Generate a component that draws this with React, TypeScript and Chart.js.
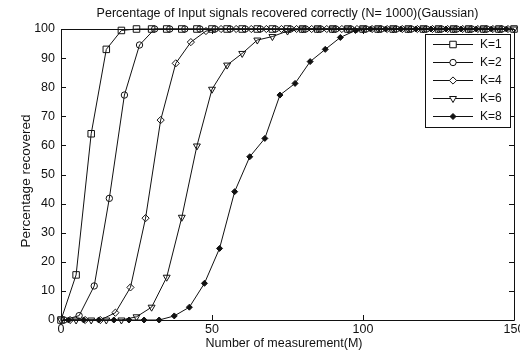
import React, { useEffect, useRef } from 'react';
import { Chart, registerables } from 'chart.js';
import { drawPoint } from 'chart.js/helpers';

Chart.register(...registerables);

const TITLE = 'Percentage of Input signals recovered correctly (N= 1000)(Gaussian)';
const X_LABEL = 'Number of measurement(M)';
const Y_LABEL = 'Percentage recovered';

const X_TICKS = [0, 50, 100, 150];
const Y_TICKS = [0, 10, 20, 30, 40, 50, 60, 70, 80, 90, 100];

const SERIES_NAMES = ['K=1', 'K=2', 'K=4', 'K=6', 'K=8'];

const xK1 = [0, 5, 10, 15, 20, 25, 30, 35, 40, 45, 50, 55, 60, 65, 70, 75, 80, 85, 90, 95, 100, 105, 110, 115, 120, 125, 130, 135, 140, 145, 150];
const yK1 = [0, 15.5, 64, 93, 99.5, 100, 100, 100, 100, 100, 100, 100, 100, 100, 100, 100, 100, 100, 100, 100, 100, 100, 100, 100, 100, 100, 100, 100, 100, 100, 100];

const xK2 = [1, 6, 11, 16, 21, 26, 31, 36, 41, 46, 51, 56, 61, 66, 71, 76, 81, 86, 91, 96, 101, 106, 111, 116, 121, 126, 131, 136, 141, 146];
const yK2 = [0, 1.5, 11.7, 41.8, 77.3, 94.5, 100, 100, 100, 100, 100, 100, 100, 100, 100, 100, 100, 100, 100, 100, 100, 100, 100, 100, 100, 100, 100, 100, 100, 100];

const xK4 = [3, 8, 13, 18, 23, 28, 33, 38, 43, 48, 53, 58, 63, 68, 73, 78, 83, 88, 93, 98, 103, 108, 113, 118, 123, 128, 133, 138, 143, 148];
const yK4 = [0, 0, 0, 2.5, 11.2, 35, 68.7, 88.2, 95.5, 99.3, 100, 100, 100, 100, 100, 100, 100, 100, 100, 100, 100, 100, 100, 100, 100, 100, 100, 100, 100, 100];

const xK6 = [0, 5, 10, 15, 20, 25, 30, 35, 40, 45, 50, 55, 60, 65, 70, 75, 80, 85, 90, 95, 100, 105, 110, 115, 120, 125, 130, 135, 140, 145, 150];
const yK6 = [0, 0, 0, 0, 0, 1.1, 4.4, 14.7, 35.3, 59.8, 79.3, 87.6, 91.6, 96.2, 97.4, 99.3, 100, 100, 100, 100, 100, 100, 100, 100, 100, 100, 100, 100, 100, 100, 100];

const xK8 = [2.5, 7.5, 12.5, 17.5, 22.5, 27.5, 32.5, 37.5, 42.5, 47.5, 52.5, 57.5, 62.5, 67.5, 72.5, 77.5, 82.5, 87.5, 92.5, 97.5, 102.5, 107.5, 112.5, 117.5, 122.5, 127.5, 132.5, 137.5, 142.5, 147.5];
const yK8 = [0, 0, 0, 0, 0, 0, 0, 1.4, 4.4, 12.6, 24.6, 44.1, 56.1, 62.4, 77.3, 81.3, 88.8, 93, 97.1, 99.5, 100, 100, 100, 100, 100, 100, 100, 100, 100, 100];

const FONT = "'Liberation Sans', Arial, sans-serif";
const INK = '#111';

type Style = { pointStyle: string; radius: number; rotation: number; fill: string };
const STYLES: Style[] = [
  { pointStyle: 'rect', radius: 4.6, rotation: 0, fill: 'rgba(0,0,0,0)' },
  { pointStyle: 'circle', radius: 3.2, rotation: 0, fill: 'rgba(0,0,0,0)' },
  { pointStyle: 'rectRot', radius: 3.6, rotation: 0, fill: 'rgba(0,0,0,0)' },
  { pointStyle: 'triangle', radius: 4, rotation: 180, fill: 'rgba(0,0,0,0)' },
  { pointStyle: 'rectRot', radius: 3, rotation: 0, fill: INK },
];

const pairs = (xs: number[], ys: number[]) => xs.map((x, i) => ({ x, y: ys[i] }));

const framePlugin = {
  id: 'matlabFrame',
  beforeDatasetsDraw(chart: any) {
    const { ctx, chartArea } = chart;
    const { left, right, top, bottom } = chartArea;
    const xs = chart.scales.x;
    const ys = chart.scales.y;
    ctx.save();
    ctx.strokeStyle = INK;
    ctx.lineWidth = 1;
    ctx.beginPath();
    ctx.rect(Math.round(left) + 0.5, Math.round(top) + 0.5, Math.round(right - left), Math.round(bottom - top));
    ctx.stroke();
    const tl = 5;
    ctx.beginPath();
    for (const v of X_TICKS) {
      const px = Math.round(xs.getPixelForValue(v)) + 0.5;
      ctx.moveTo(px, bottom);
      ctx.lineTo(px, bottom - tl);
      ctx.moveTo(px, top);
      ctx.lineTo(px, top + tl);
    }
    for (const v of Y_TICKS) {
      const py = Math.round(ys.getPixelForValue(v)) + 0.5;
      ctx.moveTo(left, py);
      ctx.lineTo(left + tl, py);
      ctx.moveTo(right, py);
      ctx.lineTo(right - tl, py);
    }
    ctx.stroke();
    ctx.restore();
  },
  afterDraw(chart: any) {
    const { ctx, chartArea } = chart;
    ctx.save();
    ctx.fillStyle = INK;
    ctx.textAlign = 'center';
    ctx.textBaseline = 'middle';
    ctx.font = `12.5px ${FONT}`;
    ctx.fillText(TITLE, (chartArea.left + chartArea.right) / 2, 14);
    ctx.fillText(X_LABEL, 284, 344);
    ctx.save();
    ctx.translate(26, 181);
    ctx.rotate(-Math.PI / 2);
    ctx.font = `13.5px ${FONT}`;
    ctx.fillText(Y_LABEL, 0, 0);
    ctx.restore();

    // legend box
    const bx = 425.5, by = 34.5, bw = 85, bh = 93;
    ctx.fillStyle = '#fff';
    ctx.fillRect(bx, by, bw, bh);
    ctx.strokeStyle = INK;
    ctx.lineWidth = 1;
    ctx.strokeRect(bx, by, bw, bh);
    ctx.font = `12px ${FONT}`;
    ctx.textAlign = 'left';
    SERIES_NAMES.forEach((name, i) => {
      const y = 44 + i * 18;
      ctx.strokeStyle = INK;
      ctx.beginPath();
      ctx.moveTo(433, y + 0.5);
      ctx.lineTo(473, y + 0.5);
      ctx.stroke();
      const st = STYLES[i];
      ctx.fillStyle = st.fill === 'rgba(0,0,0,0)' ? '#fff' : st.fill;
      ctx.lineWidth = 1;
      drawPoint(ctx, { pointStyle: st.pointStyle as any, radius: st.radius, rotation: st.rotation, borderWidth: 1 }, 453, y + 0.5);
      ctx.fillStyle = INK;
      ctx.fillText(name, 480, y + 1);
    });
    ctx.restore();
  },
};

export default function App() {
  const ref = useRef<HTMLCanvasElement>(null);
  useEffect(() => {
    if (!ref.current) return;
    const xsList = [xK1, xK2, xK4, xK6, xK8];
    const ysList = [yK1, yK2, yK4, yK6, yK8];
    const chart = new Chart(ref.current, {
      type: 'line',
      data: {
        datasets: SERIES_NAMES.map((name, i) => ({
          label: name,
          data: pairs(xsList[i], ysList[i]),
          borderColor: INK,
          borderWidth: 1,
          backgroundColor: STYLES[i].fill,
          pointBackgroundColor: STYLES[i].fill,
          pointBorderColor: INK,
          pointBorderWidth: 1,
          pointStyle: STYLES[i].pointStyle as any,
          pointRadius: STYLES[i].radius,
          pointRotation: STYLES[i].rotation,
          tension: 0,
          fill: false,
          clip: false as any,
        })),
      },
      options: {
        responsive: false,
        animation: false,
        devicePixelRatio: 1,
        layout: { padding: { left: 0, right: 6, top: 29, bottom: 0 } },
        plugins: { legend: { display: false }, title: { display: false }, tooltip: { enabled: false } },
        scales: {
          x: {
            type: 'linear',
            min: 0,
            max: 150,
            grid: { display: false, drawTicks: false },
            border: { display: false },
            ticks: {
              stepSize: 50,
              maxRotation: 0,
              autoSkip: false,
              padding: 2,
              color: INK,
              font: { family: FONT, size: 12.5 },
            },
            afterFit(scale: any) {
              scale.height = 35;
              scale.paddingLeft = 0;
              scale.paddingRight = 0;
            },
          },
          y: {
            type: 'linear',
            min: 0,
            max: 100,
            grid: { display: false, drawTicks: false },
            border: { display: false },
            ticks: {
              stepSize: 10,
              padding: 6,
              color: INK,
              font: { family: FONT, size: 12.5 },
            },
            afterFit(scale: any) {
              scale.width = 61;
              scale.paddingTop = 0;
              scale.paddingBottom = 0;
            },
          },
        },
      },
      plugins: [framePlugin],
    });
    return () => chart.destroy();
  }, []);
  return (
    <div style={{ position: 'absolute', left: 0, top: 0, width: 520, height: 355, background: '#fff' }}>
      <canvas ref={ref} width={520} height={355} style={{ width: 520, height: 355, display: 'block' }} />
    </div>
  );
}
